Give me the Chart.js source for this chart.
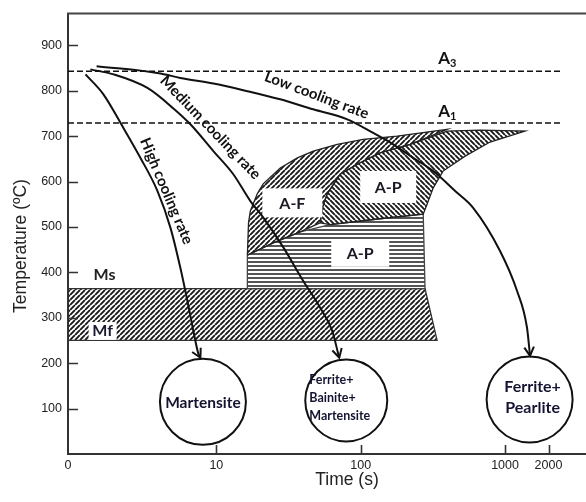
<!DOCTYPE html>
<html>
<head>
<meta charset="utf-8">
<title>CCT diagram</title>
<script src="https://cdn.jsdelivr.net/npm/chart.js@4.4.1/dist/chart.umd.min.js"></script>
<style>
html, body { margin: 0; padding: 0; background: #fff; overflow: hidden; }
#c { display: block; }
</style>
</head>
<body>
<canvas id="c" width="586" height="502"></canvas>
<script>
// Axis ranges: time on a log axis (left end labelled 0), temperature in °C
const timeMin = 0.938;
const timeMax = 3636;
const tempMin = 0;
const tempMax = 970;
const xTickValues = [timeMin, 10, 100, 1000, 2000];
const xTickLabels = ['0', '10', '100', '1000', '2000'];
const yTickValues = [100, 200, 300, 400, 500, 600, 700, 800, 900];

// Critical temperatures (°C)
const tempA3 = 843;
const tempA1 = 729;
const criticalLineEnd = 2520;
const tempMs = 364;
const tempMf = 250;

// Martensite band: right edge time at Ms and at Mf (s)
const msBandEndAtMs = 279;
const msBandEndAtMf = 338;

// Cooling curves (time s, temperature °C)
const highTime = [1.24, 1.65, 2.27, 2.98, 3.91, 4.81, 5.63, 6.30, 6.93, 7.50, 7.75];
const highTemp = [836, 792, 718, 652, 579, 498, 410, 337, 271, 221, 212];
const mediumTime = [1.34, 1.94, 3.33, 5.04, 6.61, 9.53, 13.1, 17.2, 21.2, 29.1, 40.0, 52.4, 63.5, 69.8, 71.0];
const mediumTemp = [847, 836, 806, 761, 726, 667, 616, 557, 520, 455, 381, 322, 271, 221, 212];
const lowTime = [1.48, 4.10, 5.63, 9.53, 16.4, 27.7, 46.9, 80.7, 122, 168, 231, 318, 451, 601, 923, 1211, 1419, 1489];
const lowTemp = [854, 838, 828, 816, 799, 781, 759, 737, 707, 682, 652, 623, 579, 542, 447, 359, 278, 216];

// Transformation fields, outline points (time s, temperature °C)
const bainiteTime = [16.4, 16.4, 24.8, 38.1, 61.5, 136, 271, 279, 16.4];
const bainiteTemp = [364, 438, 465, 489, 505, 518, 528, 364, 364];
const ferriteTime = [16.4, 16.7, 17.2, 19.2, 21.1, 27.7, 36.4, 46.9, 68.8, 104, 179, 397, 220, 136, 94.6, 72.1, 58.6, 54.2, 52.4, 38.1, 24.8, 16.4];
const ferriteTemp = [438, 509, 535, 573, 595, 630, 652, 667, 682, 693, 700, 715, 682, 663, 638, 616, 573, 542, 509, 489, 465, 438];
const pearliteTime = [52.4, 54.2, 58.6, 72.1, 94.6, 136, 220, 397, 671, 1375, 787, 529, 372, 318, 289, 271, 136, 61.5, 52.4];
const pearliteTemp = [509, 542, 573, 616, 638, 663, 682, 711, 713, 711, 687, 656, 623, 586, 551, 528, 518, 505, 509];

// Final microstructures (circle centres)
const productTime = [8.07, 79.4, 1479];
const productTemp = [115, 118, 120];
const productText = [['Martensite'], ['Ferrite+', 'Bainite+', 'Martensite'], ['Ferrite+', 'Pearlite']];

// Text annotations
const rateLabels = ['Low cooling rate', 'Medium cooling rate', 'High cooling rate'];
const rateLabelTime = [49.5, 9.1, 4.51];
const rateLabelTemp = [790, 719, 579];
const rateLabelAngle = [20.5, 46, 67];

const zoneLabels = ['A-F', 'A-P', 'A-P'];
const zoneLabelTime = [33.6, 155, 99.2];
const zoneLabelTemp = [553, 588, 442];

const criticalLabels = ['3', '1'];
const criticalLabelTime = [378, 378];
const criticalLabelTemp = [871, 755];

const martLabels = ['Ms', 'Mf'];
const martLabelTime = [1.68, 1.63];
const martLabelTemp = [394, 271];

// ---------------------------------------------------------------------------
const canvas = document.getElementById('c');
const g = canvas.getContext('2d');
const LABEL_FONT = 'Lato, "Open Sans", sans-serif';
const AXIS_FONT = '"Liberation Sans", Arial, sans-serif';

function hatch(kind, size, width, color) {
  const tileCanvas = document.createElement('canvas');
  tileCanvas.width = size;
  tileCanvas.height = size;
  const t = tileCanvas.getContext('2d');
  t.strokeStyle = color;
  t.lineWidth = width;
  t.beginPath();
  if (kind === '-') {
    t.moveTo(0, size / 2);
    t.lineTo(size, size / 2);
  } else {
    for (let k = -1; k <= 1; k++) {
      if (kind === '/') { t.moveTo(k * size, size); t.lineTo(k * size + size, 0); }
      else { t.moveTo(k * size, 0); t.lineTo(k * size + size, size); }
    }
  }
  t.stroke();
  return g.createPattern(tileCanvas, 'repeat');
}

const pts = (xs, ys) => xs.map((x, i) => ({ x, y: ys[i] }));

const area = (id, data, pattern, edge, order) => ({
  id, type: 'line', data, order,
  fill: 'shape', backgroundColor: pattern,
  borderColor: edge, borderWidth: 1.3, tension: 0,
  pointRadius: 0
});
const curve = (id, data, order) => ({
  id, type: 'line', data, order, fill: false,
  borderColor: '#111', borderWidth: 2,
  cubicInterpolationMode: 'monotone',
  pointRadius: 0, arrow: true
});
const dashed = (id, temp, order) => ({
  id, type: 'line', order, fill: false,
  data: [{ x: timeMin, y: temp }, { x: criticalLineEnd, y: temp }],
  borderColor: '#111', borderWidth: 1.5, borderDash: [6, 3], pointRadius: 0
});

const msBand = pts(
  [timeMin, msBandEndAtMs, msBandEndAtMf, timeMin, timeMin],
  [tempMs, tempMs, tempMf, tempMf, tempMs]
);

const datasets = [
  area('msBand', msBand, hatch('/', 5, 1.9, '#1a1a1a'), '#333', 9),
  area('bainite', pts(bainiteTime, bainiteTemp), hatch('-', 4, 2, '#555'), '#444', 8),
  area('ferrite', pts(ferriteTime, ferriteTemp), hatch('/', 5, 1.9, '#1a1a1a'), '#222', 7),
  area('pearlite', pts(pearliteTime, pearliteTemp), hatch('\\', 5, 1.9, '#1a1a1a'), '#222', 6),
  dashed('a3', tempA3, 5),
  dashed('a1', tempA1, 4),
  curve('high', pts(highTime, highTemp), 3),
  curve('medium', pts(mediumTime, mediumTemp), 2),
  curve('low', pts(lowTime, lowTemp), 1),
  {
    id: 'products', type: 'line', showLine: false, order: 0,
    data: pts(productTime, productTemp),
    pointRadius: [43, 41, 43], pointBackgroundColor: '#fff',
    pointBorderColor: '#111', pointBorderWidth: 2
  }
];

function text(c, str, x, y, font, color, align) {
  c.font = font;
  c.fillStyle = color;
  c.textAlign = align || 'center';
  c.textBaseline = 'middle';
  c.fillText(str, x, y);
}

const overlay = {
  id: 'overlay',
  afterDatasetDraw(chart, args) {
    if (chart.data.datasets[args.index].id !== 'pearlite') return;
    const xs = chart.scales.x, ys = chart.scales.y, c = chart.ctx;
    const boxes = [[60, 29], [56, 32], [58, 27]];
    c.save();
    zoneLabels.forEach((label, i) => {
      const px = xs.getPixelForValue(zoneLabelTime[i]);
      const py = ys.getPixelForValue(zoneLabelTemp[i]);
      const [w, h] = boxes[i];
      c.fillStyle = '#fff';
      c.fillRect(px - w / 2, py - h / 2, w, h);
      text(c, label, px, py + 1, 'bold 16px ' + LABEL_FONT, '#1a1a24');
    });
    // Mf sits inside the hatched band on a white patch
    const mx = xs.getPixelForValue(martLabelTime[1]);
    const my = ys.getPixelForValue(martLabelTemp[1]);
    c.fillStyle = '#fff';
    c.fillRect(mx - 14, my - 9, 28, 18);
    c.restore();
  },
  afterDatasetsDraw(chart) {
    const xs = chart.scales.x, ys = chart.scales.y, c = chart.ctx;
    const { left, right, top, bottom } = chart.chartArea;
    c.save();

    // top frame and inward tick marks
    c.strokeStyle = '#444';
    c.lineWidth = 2;
    c.beginPath();
    c.moveTo(left - 1, top);
    c.lineTo(right, top);
    c.stroke();
    c.strokeStyle = '#333';
    c.lineWidth = 1.6;
    c.beginPath();
    yTickValues.forEach(v => {
      const py = Math.round(ys.getPixelForValue(v)) + 0.5;
      c.moveTo(left, py);
      c.lineTo(left + 10, py);
    });
    xTickValues.slice(1).forEach(v => {
      const px = Math.round(xs.getPixelForValue(v)) + 0.5;
      c.moveTo(px, bottom);
      c.lineTo(px, bottom - 9);
    });
    c.stroke();

    // arrow heads at the end of each cooling curve
    chart.data.datasets.forEach((ds, i) => {
      if (!ds.arrow) return;
      const p = chart.getDatasetMeta(i).data;
      const p1 = p[p.length - 1], p0 = p[p.length - 2];
      const a = Math.atan2(p1.y - p0.y, p1.x - p0.x);
      c.strokeStyle = '#111';
      c.lineWidth = 2;
      c.beginPath();
      c.moveTo(p1.x - 10 * Math.cos(a - 0.5), p1.y - 10 * Math.sin(a - 0.5));
      c.lineTo(p1.x, p1.y);
      c.lineTo(p1.x - 10 * Math.cos(a + 0.5), p1.y - 10 * Math.sin(a + 0.5));
      c.stroke();
    });

    // cooling-rate captions along the curves
    rateLabels.forEach((label, i) => {
      c.save();
      c.translate(xs.getPixelForValue(rateLabelTime[i]), ys.getPixelForValue(rateLabelTemp[i]));
      c.rotate(rateLabelAngle[i] * Math.PI / 180);
      text(c, label, 0, 0, 'bold 15px ' + LABEL_FONT, '#111');
      c.restore();
    });

    // A3 / A1 captions
    criticalLabels.forEach((sub, i) => {
      const px = xs.getPixelForValue(criticalLabelTime[i]);
      const py = ys.getPixelForValue(criticalLabelTemp[i]);
      text(c, 'A', px, py, 'bold 17px ' + LABEL_FONT, '#111');
      text(c, sub, px + 6, py + 5, 'bold 11px ' + LABEL_FONT, '#111', 'left');
    });

    // Ms / Mf captions
    martLabels.forEach((label, i) => {
      text(c, label, xs.getPixelForValue(martLabelTime[i]), ys.getPixelForValue(martLabelTemp[i]),
        'bold 16px ' + LABEL_FONT, i === 0 ? '#222' : '#1a1a30');
    });

    // microstructure names inside the circles
    const sizes = [15.5, 12.5, 16], gaps = [0, 18, 21], dx = [0, -37, 3], dy = [1.5, -2, -2.5];
    productText.forEach((lines, i) => {
      const cx = xs.getPixelForValue(productTime[i]);
      const cy = ys.getPixelForValue(productTemp[i]);
      const align = i === 1 ? 'left' : 'center';
      lines.forEach((line, k) => {
        const y = cy + dy[i] + (k - (lines.length - 1) / 2) * gaps[i];
        text(c, line, cx + dx[i], y, 'bold ' + sizes[i] + 'px ' + LABEL_FONT, '#141432', align);
      });
    });

    // axis titles
    text(c, 'Time (s)', 347, 480, '17.5px ' + AXIS_FONT, '#222');
    c.save();
    c.translate(21, 246);
    c.rotate(-Math.PI / 2);
    text(c, 'Temperature (ºC)', 0, 0, '17.5px ' + AXIS_FONT, '#222');
    c.restore();

    c.restore();
  }
};

function build() {
  new Chart(canvas, {
    type: 'line',
    data: { datasets },
    options: {
      responsive: false,
      animation: false,
      events: [],
      layout: { autoPadding: false, padding: { top: 12, right: 0, bottom: 0, left: 0 } },
      plugins: { legend: { display: false }, tooltip: { enabled: false } },
      scales: {
        x: {
          type: 'logarithmic', min: timeMin, max: timeMax,
          afterBuildTicks: s => { s.ticks = xTickValues.map(v => ({ value: v })); },
          afterFit: s => { s.height = 48; },
          ticks: {
            autoSkip: false, maxRotation: 0, padding: 4, color: '#222',
            font: { family: AXIS_FONT, size: 12.5 },
            callback: (v, i) => xTickLabels[i]
          },
          grid: { drawOnChartArea: false, drawTicks: false },
          border: { color: '#333', width: 2 }
        },
        y: {
          type: 'linear', min: tempMin, max: tempMax,
          afterBuildTicks: s => { s.ticks = yTickValues.map(v => ({ value: v })); },
          afterFit: s => { s.width = 68; },
          ticks: {
            padding: 6, color: '#222',
            font: { family: AXIS_FONT, size: 12.5 },
            callback: v => String(v)
          },
          grid: { drawOnChartArea: false, drawTicks: false },
          border: { color: '#333', width: 2 }
        }
      }
    },
    plugins: [overlay]
  });
}

Promise.all([
  document.fonts.load('bold 16px Lato'),
  document.fonts.load('17px "Liberation Sans"')
]).catch(() => {}).then(build);
</script>
</body>
</html>
